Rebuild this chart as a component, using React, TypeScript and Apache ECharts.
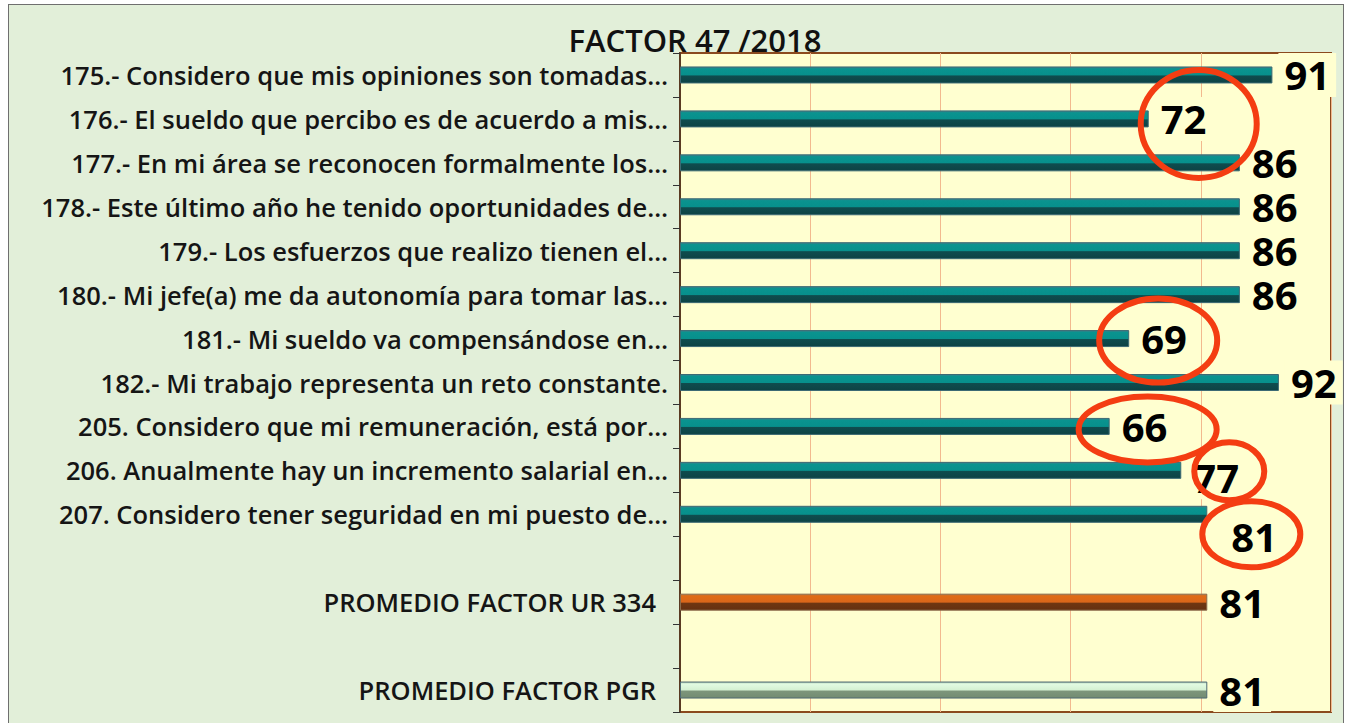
import React, { useEffect, useRef } from "react";
import * as echarts from "echarts";

const TITLE = "FACTOR 47 /2018";

const CATEGORIES = [
  "175.- Considero que mis opiniones son tomadas…",
  "176.- El sueldo que percibo es de acuerdo a mis…",
  "177.- En mi área se reconocen formalmente los…",
  "178.- Este último año he tenido oportunidades de…",
  "179.- Los esfuerzos que realizo tienen el…",
  "180.- Mi jefe(a) me da autonomía para tomar las…",
  "181.- Mi sueldo va compensándose en…",
  "182.- Mi trabajo representa un reto constante.",
  "205. Considero que mi remuneración, está por…",
  "206. Anualmente hay un incremento salarial en…",
  "207. Considero tener seguridad en mi puesto de…",
  "",
  "PROMEDIO FACTOR UR 334",
  "",
  "PROMEDIO FACTOR PGR",
];

const VALUES: (number | null)[] = [91, 72, 86, 86, 86, 86, 69, 92, 66, 77, 81, null, 81, null, 81];

// kind of each row: question, blank, unit average, PGR average
const ROW_KIND = ["q", "q", "q", "q", "q", "q", "q", "q", "q", "q", "q", "-", "ur", "-", "pgr"];

// rows whose value is circled in red
const CIRCLED = [1, 6, 8, 9, 10];

const X_MIN = 0;
const X_MAX = 100;
const X_INTERVAL = 20;

// ---- styling (kept apart from the data) ----
const grad = (stops: [number, string][]) =>
  new echarts.graphic.LinearGradient(
    0, 0, 0, 1,
    stops.map(([offset, color]) => ({ offset, color }))
  );

const KIND_STYLE: Record<string, any> = {
  q: {
    color: grad([
      [0, "#3f7f8a"],
      [0.12, "#0a938f"],
      [0.5, "#07908c"],
      [0.56, "#0f4c4e"],
      [1, "#0d4345"],
    ]),
    borderColor: "#3c6a74",
    borderWidth: 1,
  },
  ur: {
    color: grad([
      [0, "#b8743e"],
      [0.12, "#e06b16"],
      [0.5, "#d9661a"],
      [0.56, "#6e3612"],
      [1, "#643010"],
    ]),
    borderColor: "#8a6a4a",
    borderWidth: 1,
  },
  pgr: {
    color: grad([
      [0, "#a8c8b0"],
      [0.12, "#e2fbe2"],
      [0.5, "#d4f0d2"],
      [0.56, "#7d957b"],
      [1, "#738c72"],
    ]),
    borderColor: "#4d6872",
    borderWidth: 1,
  },
};

const ELLIPSE_GEOM: Record<number, { dx: number; dy: number; rx: number; ry: number }> = {
  1: { dx: 50, dy: 5, rx: 58, ry: 54 },
  6: { dx: 29, dy: 2, rx: 59, ry: 42 },
  8: { dx: 38, dy: 3, rx: 69, ry: 33 },
  9: { dx: 48, dy: 1, rx: 35, ry: 29 },
  10: { dx: 44, dy: 20, rx: 49, ry: 33 },
};

const LABEL_OFFSET: Record<number, [number, number]> = {
  9: [0, 7],
  10: [12, 22],
};

const FONT = "'Open Sans', 'Noto Sans', sans-serif";

export default function App() {
  const ref = useRef<HTMLDivElement>(null);

  useEffect(() => {
    if (!ref.current) return;
    const chart = echarts.init(ref.current, null, { renderer: "svg" });

    const barData = VALUES.map((v, i) => {
      if (v === null) return { value: "-" };
      const item: any = {
        value: v,
        itemStyle: KIND_STYLE[ROW_KIND[i]],
      };
      if (LABEL_OFFSET[i]) item.label = { offset: LABEL_OFFSET[i] };
      return item;
    });

    const circleData = CIRCLED.map((i) => [VALUES[i], i]);

    chart.setOption({
      animation: false,
      backgroundColor: "transparent",
      graphic: [
        {
          type: "text",
          x: 695,
          y: 40,
          z: 100,
          style: {
            text: TITLE,
            align: "center",
            verticalAlign: "middle",
            fontFamily: FONT,
            fontSize: 31,
            fontWeight: 600,
            fill: "#111",
          },
        },
      ],
      grid: {
        left: 680,
        right: 16,
        top: 53,
        bottom: 11,
        show: true,
        backgroundColor: "#ffffd0",
        borderColor: "#8b4a1e",
        borderWidth: 2,
      },
      xAxis: {
        type: "value",
        min: X_MIN,
        max: X_MAX,
        interval: X_INTERVAL,
        axisLabel: { show: false },
        axisTick: { show: false },
        axisLine: { show: false },
        splitLine: { show: true, lineStyle: { color: "#f2b98e", width: 1 } },
      },
      yAxis: {
        type: "category",
        inverse: true,
        data: CATEGORIES,
        axisLine: { show: true, lineStyle: { color: "#5a3a22", width: 2 } },
        axisTick: { show: true, length: 7, lineStyle: { color: "#333" } },
        axisLabel: {
          margin: 12,
          fontFamily: FONT,
          fontSize: 25.5,
          fontWeight: 600,
          color: "#151515",
          formatter: (v: string) =>
            v.startsWith("PROMEDIO") ? `{p|${v}}` : v,
          rich: {
            p: {
              fontFamily: FONT,
              fontSize: 25.5,
              fontWeight: 600,
              color: "#151515",
              padding: [0, 12, 0, 0],
            },
          },
        },
      },
      series: [
        {
          type: "bar",
          data: barData,
          barWidth: 17,
          z: 2,
          label: {
            show: true,
            position: "right",
            distance: 6,
            fontFamily: FONT,
            fontSize: 40,
            fontWeight: 700,
            color: "#000",
            backgroundColor: "#ffffd0",
            padding: [2, 6, 2, 6],
            lineHeight: 40,
          },
        },
        {
          type: "custom",
          z: 10,
          silent: true,
          data: circleData,
          encode: { x: 0, y: 1 },
          renderItem: (params: any, api: any) => {
            const idx = api.value(1);
            const pt = api.coord([api.value(0), idx]);
            const g = ELLIPSE_GEOM[idx];
            return {
              type: "ellipse",
              shape: { cx: pt[0] + g.dx, cy: pt[1] + g.dy, rx: g.rx, ry: g.ry },
              style: { fill: "none", stroke: "#f43d12", lineWidth: 6 },
            };
          },
        },
      ],
    });

    return () => chart.dispose();
  }, []);

  return (
    <div
      style={{
        position: "absolute",
        left: 0,
        top: 0,
        width: 1347,
        height: 723,
        background: "#ffffff",
        overflow: "hidden",
      }}
    >
      <div
        style={{
          position: "absolute",
          left: 8,
          top: 4,
          width: 1334,
          height: 730,
          background: "#e2efd9",
          border: "1px solid #6f6f6f",
        }}
      />
      <div
        ref={ref}
        style={{ position: "absolute", left: 0, top: 0, width: 1347, height: 723 }}
      />
    </div>
  );
}
